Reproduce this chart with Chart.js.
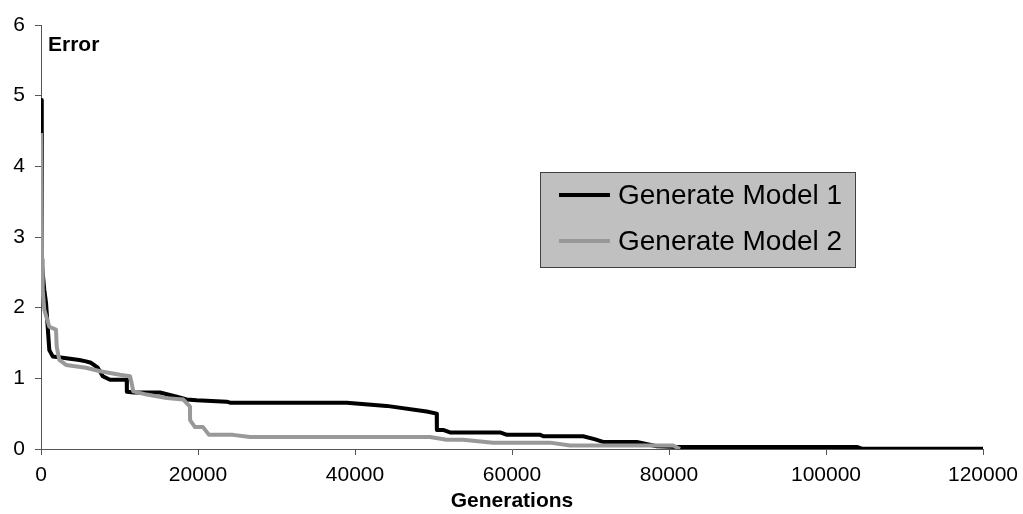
<!DOCTYPE html>
<html>
<head>
<meta charset="utf-8">
<script src="https://cdn.jsdelivr.net/npm/chart.js@4/dist/chart.umd.min.js"></script>
<style>
  html, body { margin: 0; padding: 0; background: #fff; }
  #wrap { position: relative; width: 1023px; height: 514px; }
</style>
</head>
<body>
<div id="wrap"><canvas id="chart"></canvas></div>
<script>
// error per generation, two model generators
var seriesNames = ['Generate Model 1', 'Generate Model 2'];
var seriesColors = ['#000000', '#999999'];

var gen1 = [0, 100, 420, 640, 850, 1060, 1490, 2760, 4880, 5730,
  6370, 7230, 7870, 8790, 10920, 10940, 11800, 15160, 17290, 18560,
  19830, 23650, 24080, 38940, 44030, 49130, 50410, 50430, 51220, 52100,
  58480, 59360, 63600, 64000, 69060, 70500, 71600, 75900, 78440, 81000,
  103920, 104560, 120000];
var err1 = [4.94, 2.64, 2.25, 2.07, 1.73, 1.40, 1.31, 1.29, 1.26, 1.24,
  1.22, 1.15, 1.03, 0.98, 0.98, 0.81, 0.80, 0.80, 0.74, 0.70,
  0.69, 0.67, 0.655, 0.655, 0.61, 0.53, 0.50, 0.27, 0.27, 0.235,
  0.235, 0.20, 0.20, 0.18, 0.18, 0.14, 0.10, 0.10, 0.04, 0.03,
  0.03, 0.005, 0.005];

var gen2 = [0, 130, 217, 420, 1060, 1910, 2000, 2330, 3190, 5730,
  7520, 10060, 11340, 11550, 11760, 13470, 16010, 18130, 18980, 18990,
  19620, 20640, 21400, 24460, 26630, 49560, 51690, 53760, 57590, 64850,
  67400, 80520, 81400];
var err2 = [4.47, 2.68, 2.25, 1.97, 1.73, 1.69, 1.45, 1.26, 1.19, 1.15,
  1.10, 1.05, 1.03, 0.93, 0.815, 0.77, 0.72, 0.70, 0.60, 0.41,
  0.31, 0.31, 0.20, 0.20, 0.17, 0.17, 0.13, 0.13, 0.09, 0.09,
  0.05, 0.05, 0.0];

var xTitle = 'Generations';
var yTitle = 'Error';
var xMin = 0, xMax = 120000, xStep = 20000;
var yMin = 0, yMax = 6, yStep = 1;

var FONT = "'Liberation Sans', Arial, sans-serif";

function toPoints(xs, ys) {
  return xs.map(function (x, i) { return { x: x, y: ys[i] }; });
}

// boxed legend floating inside the plot + the "Error" label at the top-left
var boxLegend = {
  id: 'boxLegend',
  afterDraw: function (chart) {
    var ctx = chart.ctx;
    var area = chart.chartArea;
    ctx.save();

    ctx.fillStyle = '#000';
    ctx.font = 'bold 21px ' + FONT;
    ctx.textAlign = 'left';
    ctx.textBaseline = 'middle';
    ctx.fillText(yTitle, area.left + 7, area.top + 20);

    var bx = 540.5, by = 172.5, bw = 315, bh = 95;
    ctx.fillStyle = '#c0c0c0';
    ctx.fillRect(bx, by, bw, bh);
    ctx.strokeStyle = '#404040';
    ctx.lineWidth = 1;
    ctx.strokeRect(bx, by, bw, bh);

    ctx.font = '28px ' + FONT;
    chart.data.datasets.forEach(function (ds, i) {
      var cy = 195 + i * 46;
      ctx.strokeStyle = ds.borderColor;
      ctx.lineWidth = 4;
      ctx.beginPath();
      ctx.moveTo(559, cy);
      ctx.lineTo(610, cy);
      ctx.stroke();
      ctx.fillStyle = '#000';
      ctx.fillText(ds.label, 618, cy + 1);
    });
    ctx.restore();
  }
};

new Chart(document.getElementById('chart'), {
  type: 'line',
  data: {
    datasets: [
      {
        label: seriesNames[0],
        data: toPoints(gen1, err1),
        borderColor: seriesColors[0],
        borderWidth: 4,
        pointRadius: 0,
        tension: 0,
        borderJoinStyle: 'round',
        order: 1
      },
      {
        label: seriesNames[1],
        data: toPoints(gen2, err2),
        borderColor: seriesColors[1],
        borderWidth: 4,
        pointRadius: 0,
        tension: 0,
        borderJoinStyle: 'round',
        order: 0
      }
    ]
  },
  options: {
    responsive: true,
    maintainAspectRatio: false,
    animation: false,
    layout: { padding: { top: 25, right: 40, left: 0, bottom: 0 } },
    plugins: {
      legend: { display: false },
      tooltip: { enabled: false }
    },
    scales: {
      x: {
        type: 'linear',
        min: xMin,
        max: xMax,
        afterFit: function (scale) {
          scale.height = 65;
          // keep the 120000 label from pushing the plot edge inwards
          scale.paddingLeft = 0;
          scale.paddingRight = 0;
        },
        ticks: {
          stepSize: xStep,
          color: '#000',
          padding: 8,
          maxRotation: 0,
          font: { family: FONT, size: 21 },
          callback: function (v) { return String(v); }
        },
        grid: { drawOnChartArea: false, drawTicks: true, tickLength: 6, color: '#555' },
        border: { color: '#555', width: 1 },
        title: {
          display: true,
          text: xTitle,
          color: '#000',
          padding: { top: 0, bottom: 0 },
          font: { family: FONT, size: 21, weight: 'bold' }
        }
      },
      y: {
        min: yMin,
        max: yMax,
        afterFit: function (scale) { scale.width = 41; },
        ticks: {
          stepSize: yStep,
          color: '#000',
          padding: 10,
          font: { family: FONT, size: 21 }
        },
        grid: { drawOnChartArea: false, drawTicks: true, tickLength: 6, color: '#555' },
        border: { color: '#555', width: 1 }
      }
    }
  },
  plugins: [boxLegend]
});
</script>
</body>
</html>
